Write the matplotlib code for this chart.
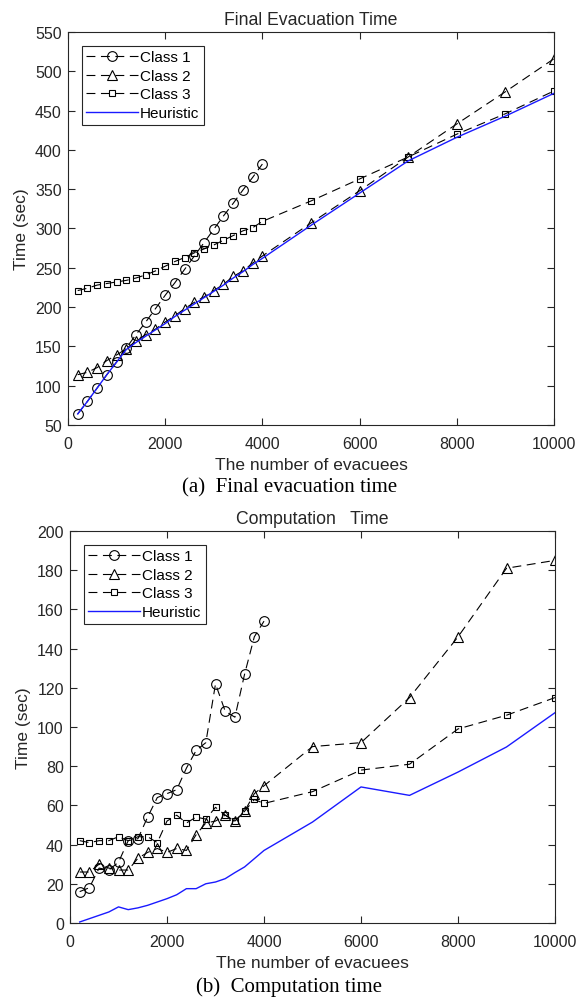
import numpy as np
import matplotlib
matplotlib.use('Agg')
import matplotlib.pyplot as plt

plt.rcParams['font.family'] = ['Liberation Sans', 'DejaVu Sans']

# x positions (number of evacuees)
x_small = [200, 400, 600, 800, 1000, 1200, 1400, 1600, 1800, 2000,
           2200, 2400, 2600, 2800, 3000, 3200, 3400, 3600, 3800, 4000]
x_all = x_small + [5000, 6000, 7000, 8000, 9000, 10000]

# (a) final evacuation time
evac_c1 = [64, 80, 97, 114, 130, 148, 165, 181, 198, 215,
           231, 248, 265, 282, 299, 316, 332, 349, 365, 382]
evac_c2 = [114, 117, 123, 132, 139, 147, 157, 165, 172, 181,
           189, 198, 206, 213, 221, 229, 239, 246, 256, 265,
           307, 348, 391, 433, 474, 516]
evac_c3 = [221, 224, 228, 230, 232, 234, 237, 241, 246, 252,
           258, 263, 269, 274, 279, 285, 291, 297, 301, 309,
           335, 363, 391, 420, 446, 475]
evac_h = [64, 80, 97, 114, 130, 146, 155, 163, 171, 179,
          188, 196, 204, 212, 220, 228, 237, 245, 254, 262,
          304, 345, 386, 416, 443, 472]

# (b) computation time
comp_c1 = [16, 18, 28, 27, 31, 42, 43, 54, 64, 66,
           68, 79, 88, 92, 122, 108, 105, 127, 146, 154]
comp_c2 = [26, 26, 30, 28, 27, 27, 33, 36, 38, 36,
           38, 37, 45, 51, 52, 55, 52, 57, 66, 70,
           90, 92, 115, 146, 181, 185]
comp_c3 = [42, 41, 42, 42, 44, 42, 44, 44, 41, 52,
           55, 51, 54, 53, 59, 55, 52, 57, 63, 61,
           67, 78, 81, 99, 106, 115]
comp_h = [0.5, 2.2, 3.9, 5.6, 8.2, 6.8, 7.7, 9, 10.7, 12.4,
          14.4, 17.5, 17.5, 20, 20.9, 22.6, 25.7, 28.6, 32.8, 37,
          51.5, 69.4, 65.1, 77, 89.8, 107.3]

dash = (0, (8, 5))
axcol = '#262626'


def panel(ax, c1, c2, c3, h, title, ylim, yticks):
    ax.plot(x_small, c1, linestyle=dash, color='k', lw=0.8, marker='o',
            ms=7, mfc='none', mec='k', mew=0.8, label='Class 1')
    ax.plot(x_all, c2, linestyle=dash, color='k', lw=0.8, marker='^',
            ms=7.5, mfc='none', mec='k', mew=0.8, label='Class 2')
    ax.plot(x_all, c3, linestyle=dash, color='k', lw=0.8, marker='s',
            ms=5, mfc='none', mec='k', mew=0.8, label='Class 3')
    ax.plot(x_all, h, color='#1a1aff', lw=1.0, label='Heuristic')
    ax.set_xlim(0, 10000)
    ax.set_ylim(*ylim)
    ax.set_xticks(np.arange(0, 10001, 2000))
    ax.set_yticks(yticks)
    ax.tick_params(direction='in', top=True, right=True, length=5,
                   width=0.8, colors=axcol, labelsize=11.5)
    ax.tick_params(axis='x', pad=8)
    ax.tick_params(axis='y', pad=4.5)
    for s in ax.spines.values():
        s.set_color(axcol)
        s.set_linewidth(0.8)
    ax.set_title(title, fontsize=12.7, color=axcol, pad=6)
    ax.set_xlabel('The number of evacuees', fontsize=12.5, color=axcol, labelpad=4)
    ax.set_ylabel('Time (sec)', fontsize=12.5, color=axcol, labelpad=4)
    leg = ax.legend(loc='upper left', fontsize=11, handlelength=3.4,
                    fancybox=False, edgecolor=axcol, framealpha=1,
                    borderaxespad=0.9, labelspacing=0.3, handletextpad=0.1,
                    borderpad=0.3)
    leg.get_frame().set_linewidth(0.8)


fig = plt.figure(figsize=(5.79, 10.03), dpi=100)
ax1 = fig.add_axes([0.1174, 0.5753, 0.8394, 0.3918])
panel(ax1, evac_c1, evac_c2, evac_c3, evac_h, 'Final Evacuation Time',
      (50, 550), np.arange(50, 551, 50))
ax2 = fig.add_axes([0.1209, 0.0788, 0.8377, 0.3908])
panel(ax2, comp_c1, comp_c2, comp_c3, comp_h, 'Computation   Time',
      (0, 200), np.arange(0, 201, 20))

fig.text(0.50, 1 - 488 / 1003, '(a)  Final evacuation time', ha='center',
         va='center', fontsize=15, family=['Liberation Serif', 'DejaVu Serif'])
fig.text(0.50, 1 - 987 / 1003, '(b)  Computation time', ha='center',
         va='center', fontsize=15, family=['Liberation Serif', 'DejaVu Serif'])

fig.savefig('out.png', dpi=100, facecolor='white')
